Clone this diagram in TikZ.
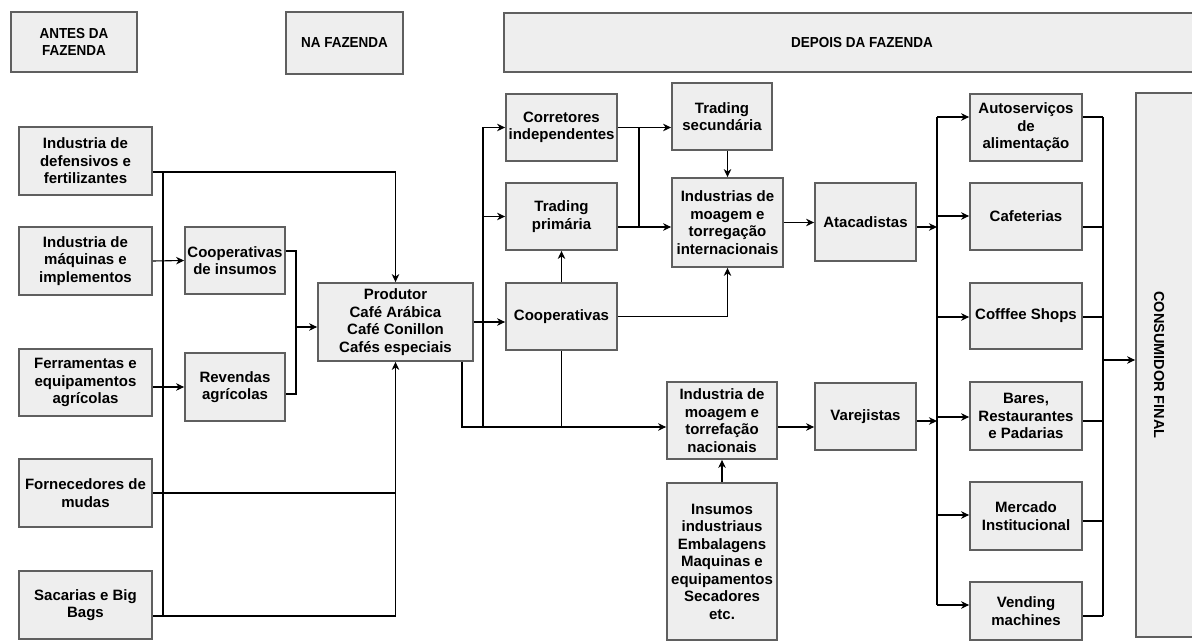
\documentclass[tikz,border=0pt]{standalone}
\usepackage{fontspec}
\setmainfont{Liberation Sans}
\newfontfamily\headfont[FakeStretch=0.93]{Liberation Sans}
\usepackage{xcolor}
\usepackage{tikz}
\usetikzlibrary{arrows.meta, positioning, calc}
\definecolor{boxfill}{RGB}{238, 238, 238}
\definecolor{boxline}{RGB}{95, 95, 95}
\tikzstyle{box} = [rectangle, draw=boxline, fill=boxfill, line width=1.8pt, align=center, inner sep=0pt, font=\bfseries\fontsize{15}{17.5}\selectfont]
\tikzstyle{head} = [box, font=\headfont\bfseries\fontsize{14.5}{17}\selectfont]
\tikzstyle{seta} = [-{Stealth[length=8pt, width=7.5pt, inset=2.5pt]}, line width=1.1pt]
\tikzstyle{linha} = [line width=1.1pt]

\begin{document}
\begin{tikzpicture}[x=1pt, y=-1pt]
    \useasboundingbox (0,0) rectangle (1192,644);

    % Cabecalhos
    \node[head, minimum width=126pt, minimum height=60pt] (antes) at (74,42) {ANTES DA\\FAZENDA};
    \node[head, minimum width=117pt, minimum height=62pt] (na) at (344.5,43) {NA FAZENDA};
    \node[head, minimum width=692pt, minimum height=59pt] (depois) at (850,42.5) {};
    \node[font=\headfont\bfseries\fontsize{14.5}{17}\selectfont] at (862,42.5) {DEPOIS DA FAZENDA};

    % Antes da fazenda
    \node[box, minimum width=133pt, minimum height=68pt] (defens) at (85.5,161) {Industria de\\defensivos e\\fertilizantes};
    \node[box, minimum width=133pt, minimum height=68pt] (maq) at (85.5,261) {Industria de\\máquinas e\\implementos};
    \node[box, minimum width=133pt, minimum height=67pt] (ferr) at (85.5,382.5) {Ferramentas e\\equipamentos\\agrícolas};
    \node[box, minimum width=133pt, minimum height=68pt] (forn) at (85.5,493) {Fornecedores de\\mudas};
    \node[box, minimum width=133pt, minimum height=68pt] (sac) at (85.5,605) {Sacarias e Big\\Bags};
    \node[box, minimum width=100pt, minimum height=67pt] (coopins) at (235,260.5) {Cooperativas\\de insumos};
    \node[box, minimum width=100pt, minimum height=68pt] (revendas) at (235,387) {Revendas\\agrícolas};

    % Na fazenda
    \node[box, minimum width=155pt, minimum height=78pt] (prod) at (395.5,322) {Produtor\\Café Arábica\\Café Conillon\\Cafés especiais};

    % Depois da fazenda
    \node[box, minimum width=111pt, minimum height=67pt] (corr) at (561.5,127.5) {Corretores\\independentes};
    \node[box, minimum width=111pt, minimum height=67pt] (prim) at (561.5,216.5) {Trading\\primária};
    \node[box, minimum width=111pt, minimum height=67pt] (coop) at (561.5,316.5) {Cooperativas};
    \node[box, minimum width=100pt, minimum height=67pt] (tsec) at (722,116.5) {Trading\\secundária};
    \node[box, minimum width=111pt, minimum height=89pt] (intl) at (727.5,222.5) {Industrias de\\moagem e\\torregação\\internacionais};
    \node[box, minimum width=110pt, minimum height=77pt] (nac) at (722,420.5) {Industria de\\moagem e\\torrefação\\nacionais};
    \node[box, minimum width=110pt, minimum height=157pt] (ins) at (722,561.5) {Insumos\\industriaus\\Embalagens\\Maquinas e\\equipamentos\\Secadores\\etc.};
    \node[box, minimum width=101pt, minimum height=78pt] (atac) at (865.5,222) {Atacadistas};
    \node[box, minimum width=101pt, minimum height=67pt] (var) at (865.5,416.5) {Varejistas};

    \node[box, minimum width=112pt, minimum height=67pt] (auto) at (1026,127.5) {Autoserviços\\de\\alimentação};
    \node[box, minimum width=112pt, minimum height=67pt] (cafet) at (1026,216.5) {Cafeterias};
    \node[box, minimum width=112pt, minimum height=66pt] (coffee) at (1026,316) {Cofffee Shops};
    \node[box, minimum width=112pt, minimum height=68pt] (bares) at (1026,416) {Bares,\\Restaurantes\\e Padarias};
    \node[box, minimum width=112pt, minimum height=68pt] (merc) at (1026,516) {Mercado\\Institucional};
    \node[box, minimum width=112pt, minimum height=58pt] (vend) at (1026,611) {Vending\\machines};

    \node[box, minimum width=64pt, minimum height=544pt] (cons) at (1168,365) {};
    \node[rotate=-90, font=\bfseries\fontsize{14.5}{17}\selectfont] at (1159,365) {CONSUMIDOR FINAL};

    % Ligacoes antes da fazenda
    \coordinate (bt) at (163,172);
    \coordinate (bb) at (163,616);
    \draw[linha] (bt) -- (bb);
    \draw[seta] ([yshift=-11pt]defens.east) -| (prod.north);
    \draw[seta] (maq.east) -- (coopins.west);
    \draw[seta] (ferr.east |- revendas.west) -- (revendas.west);
    \draw[linha] (forn.east) -- (forn.east -| prod.south);
    \draw[seta] ([yshift=-11pt]sac.east) -| (prod.south);
    \coordinate (ja) at (296,327);
    \draw[linha] ([yshift=9.5pt]coopins.east) -| (ja) |- ([yshift=-7pt]revendas.east);
    \draw[seta] (ja) -- (ja -| prod.west);

    % Ligacoes do produtor
    \coordinate (jb) at (483,427);
    \draw[seta] (prod.east) -- (prod.east -| coop.west);
    \draw[seta] ([xshift=66.5pt]prod.south) |- ([yshift=-6.5pt]nac.west);
    \draw[seta] (jb) |- (corr.west);
    \draw[seta] (jb |- prim.west) -- (prim.west);
    \draw[linha] (coop.south) -- (coop.south |- jb);
    \draw[seta] (coop.north) -- (prim.south);

    % Ligacoes das tradings
    \coordinate (jd) at (639,127.5);
    \coordinate (je) at (639,227);
    \draw[seta] (corr.east) -- (corr.east -| tsec.west);
    \draw[linha] (jd) -- (je);
    \draw[seta] (je -| prim.east) -- (je -| intl.west);
    \draw[seta] (tsec.south -| intl.north) -- (intl.north);
    \draw[seta] (coop.east) -| (intl.south);
    \draw[seta] (intl.east) -- (intl.east -| atac.west);
    \draw[seta] ([yshift=-6.5pt]nac.east) -- ([yshift=-6.5pt]nac.east -| var.west);
    \draw[seta] (ins.north) -- (nac.south);

    % Distribuicao
    \coordinate (bl) at (937,117);
    \coordinate (bl2) at (937,605);
    \coordinate (br) at (1103,117);
    \coordinate (br2) at (1103,616);
    \draw[seta] ([yshift=-5pt]atac.east) -- ([yshift=-5pt]atac.east -| bl);
    \draw[seta] ([yshift=-4.5pt]var.east) -- ([yshift=-4.5pt]var.east -| bl);
    \draw[linha] (bl) -- (bl2);
    \draw[linha] (br) -- (br2);
    \foreach \n/\a/\b in {auto/117/117, cafet/216/227, coffee/317/317, bares/417/421, merc/515/521, vend/605/616} {
        \draw[seta] (937,\a) -- (\n.west |- 0,\a);
        \draw[linha] (\n.east |- 0,\b) -- (1103,\b);
    }
    \draw[seta] (1103,360) -- (cons.west |- 0,360);
\end{tikzpicture}
\end{document}
